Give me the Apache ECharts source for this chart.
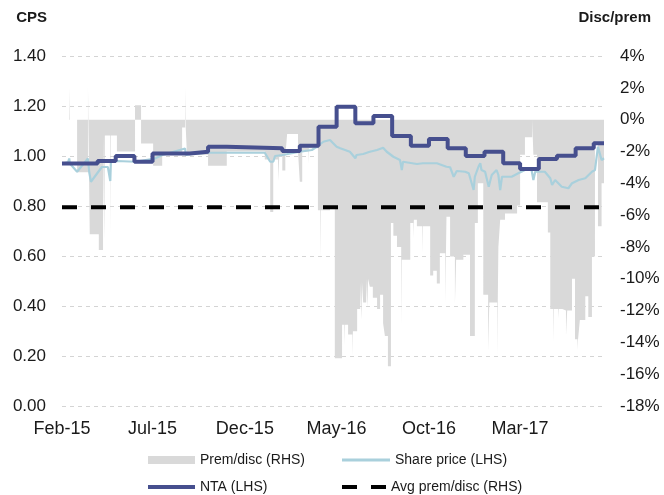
<!DOCTYPE html>
<html>
<head>
<meta charset="utf-8">
<script src="https://cdn.jsdelivr.net/npm/echarts@6/dist/echarts.min.js"></script>
<style>
html,body{margin:0;padding:0;background:#fff;}
#chart{width:664px;height:495px;}
</style>
</head>
<body>
<div id="chart"></div>
<script>
// ---- Data ----
const xTickDates = ['2015-02-01','2015-07-01','2015-12-01','2016-05-01','2016-10-01','2017-03-01'];
const xTickLabels = ['Feb-15','Jul-15','Dec-15','May-16','Oct-16','Mar-17'];
const xStart = '2015-02-01';
const xEnd = '2017-07-18';

// Premium / discount to NTA (%), step values starting on each date
const premDates = ['2015-02-01','2015-02-13','2015-02-14','2015-02-26','2015-03-16','2015-03-19','2015-04-03','2015-04-10','2015-04-12','2015-04-13',
'2015-04-22','2015-04-23','2015-05-03','2015-06-02','2015-06-12','2015-07-02','2015-07-17','2015-08-19','2015-08-24','2015-08-25',
'2015-08-27','2015-10-01','2015-11-01','2016-01-03','2016-01-12','2016-01-17','2016-01-25','2016-01-27','2016-02-01','2016-02-06',
'2016-02-09','2016-02-27','2016-03-01','2016-03-05','2016-03-15','2016-03-16','2016-03-31','2016-04-04','2016-04-05','2016-04-20',
'2016-04-28','2016-05-10','2016-05-14','2016-05-15','2016-05-20','2016-05-27','2016-05-28','2016-06-04','2016-06-09','2016-06-11',
'2016-06-12','2016-06-14','2016-06-19','2016-06-21','2016-06-22','2016-06-25','2016-06-30','2016-07-07','2016-07-12','2016-07-17',
'2016-07-20','2016-07-25','2016-07-30','2016-08-03','2016-08-09','2016-08-16','2016-08-17','2016-08-31','2016-09-05','2016-09-06',
'2016-09-11','2016-09-20','2016-09-21','2016-10-03','2016-10-08','2016-10-14','2016-10-19','2016-10-28','2016-10-30','2016-11-05',
'2016-11-13','2016-11-15','2016-11-27','2016-12-08','2016-12-16','2016-12-21','2016-12-30','2017-01-07','2017-01-09','2017-01-22',
'2017-01-24','2017-01-27','2017-02-04','2017-02-24','2017-03-01','2017-03-09','2017-03-21','2017-03-23','2017-03-29','2017-04-16',
'2017-04-20','2017-04-25','2017-04-26','2017-05-03','2017-05-04','2017-05-10','2017-05-16','2017-05-18','2017-05-26','2017-05-31',
'2017-06-04','2017-06-05','2017-06-08','2017-06-17','2017-06-22','2017-06-28','2017-07-03','2017-07-08','2017-07-14','2017-07-18'];
const premValues = [0,2.0,0,-3.3,2.1,-7.2,-8.2,-1.0,-7.6,-1.0,
-7.4,-1.0,-2.0,0.9,-1.5,-2.9,-2.2,-0.5,2.0,-0.5,
-2.2,-2.9,-2.0,-2.5,-5.8,-2.5,-3.9,-2.3,-3.2,-2.3,
-0.9,-2.0,-3.9,-2.0,-2.8,-1.8,-5.7,-8.9,-5.7,-5.5,
-15.0,-12.9,-14.2,-12.9,-13.5,-14.9,-13.3,-11.9,-10.2,-12.6,
-10.2,-11.5,-10.0,-11.8,-10.0,-10.5,-11.2,-11.9,-11.0,-12.8,
-13.6,-15.5,-6.5,-7.3,-8.0,-13.0,-8.8,-6.5,-7.5,-6.3,
-6.7,-8.4,-6.7,-9.8,-9.5,-10.3,-8.4,-11.6,-6.1,-8.6,
-11.6,-8.8,-8.5,-13.6,-6.5,-4.0,-11.0,-14.6,-11.5,-14.9,
-8.0,-6.3,-5.9,-5.4,-2.2,-1.1,0,-2.2,-5.2,-7.1,
-11.9,-14.0,-11.9,-12.5,-11.9,-12.0,-13.6,-12.0,-10.0,-13.8,
-14.5,-13.8,-12.6,-11.1,-12.4,-8.6,-1.5,-6.7,-4.0,-4.0];

// Share price (cents per share)
const shareDates = ['2015-02-01','2015-02-11','2015-02-13','2015-02-14','2015-02-26','2015-03-16','2015-03-18','2015-03-21','2015-04-08','2015-04-18',
'2015-04-22','2015-04-23','2015-05-03','2015-06-02','2015-07-05','2015-07-17','2015-08-24','2015-08-25','2015-09-01','2015-10-01',
'2016-01-03','2016-01-12','2016-01-17','2016-01-20','2016-02-01','2016-03-01','2016-03-21','2016-03-31','2016-04-09','2016-04-20',
'2016-05-01','2016-05-07','2016-05-23','2016-06-01','2016-06-03','2016-06-14','2016-06-25','2016-07-07','2016-07-17','2016-07-23',
'2016-08-03','2016-08-14','2016-08-17','2016-08-19','2016-09-11','2016-09-21','2016-10-14','2016-10-30','2016-11-05','2016-11-11',
'2016-11-16','2016-11-30','2016-12-06','2016-12-14','2016-12-16','2016-12-22','2016-12-25','2016-12-27','2017-01-02','2017-01-08',
'2017-01-13','2017-01-21','2017-01-24','2017-01-27','2017-01-30','2017-02-15','2017-02-26','2017-03-09','2017-03-20','2017-03-23',
'2017-03-26','2017-04-11','2017-04-20','2017-04-23','2017-04-28','2017-05-09','2017-05-20','2017-05-26','2017-06-06','2017-06-17',
'2017-06-28','2017-07-03','2017-07-08','2017-07-14','2017-07-18'];
const shareValues = [0.97,0.975,0.99,0.97,0.937,0.99,0.937,0.897,0.956,0.956,
0.90,0.977,0.98,0.977,0.99,1.004,1.03,1.004,1.007,1.013,
1.013,0.977,0.977,1.0,1.004,1.017,1.024,1.04,1.057,1.064,
1.037,1.031,1.017,0.991,1.004,1.008,1.017,1.024,1.033,1.017,
0.997,0.984,0.944,0.977,0.968,0.971,0.971,0.957,0.955,0.917,
0.94,0.937,0.931,0.864,0.917,0.957,0.971,0.944,0.937,0.877,
0.924,0.944,0.924,0.864,0.917,0.917,0.931,0.944,0.944,0.904,
0.937,0.937,0.911,0.884,0.904,0.877,0.871,0.891,0.904,0.911,
0.937,0.944,1.037,0.984,0.991];

// NTA per share (monthly)
const ntaDates = ['2015-02-01','2015-04-01','2015-05-01','2015-06-01','2015-07-01','2015-09-01','2015-10-01','2015-11-01','2016-02-01','2016-03-01',
'2016-04-01','2016-05-01','2016-06-01','2016-07-01','2016-08-01','2016-09-01','2016-10-01','2016-11-01','2016-12-01','2017-01-01',
'2017-02-01','2017-03-01','2017-04-01','2017-05-01','2017-06-01','2017-07-01','2017-07-18'];
const ntaValues = [0.97,0.98,1.00,0.977,1.01,1.017,1.037,1.031,1.02,1.041,
1.117,1.197,1.131,1.16,1.08,1.041,1.068,1.031,1.00,1.017,
0.971,0.948,0.988,1.001,1.031,1.051,1.051];

const avgPremDisc = -5.5;

// ---- Build ----
const toTs = s => { const p = s.split('-').map(Number); return Date.UTC(p[0], p[1]-1, p[2]); };
const pairs = (ds, vs) => ds.map((d, i) => [toTs(d), vs[i]]);
const tickTs = xTickDates.map(toTs);

const chart = echarts.init(document.getElementById('chart'), null, {renderer: 'canvas'});
const txt = '#1a1a1a';
const font = 'Liberation Sans, Arial, sans-serif';

const legendText = {fontSize: 14, color: txt, lineHeight: 16, fontFamily: font};
function oneLegend(name, left, centerY, icon, w, h, color) {
  return {
    left: left, top: centerY - 8, padding: 0, itemWidth: w, itemHeight: h,
    textStyle: legendText,
    data: [{name: name, icon: icon, itemStyle: {color: color, borderWidth: 0}}]
  };
}

chart.setOption({
  animation: false,
  textStyle: {fontFamily: font},
  grid: {left: 62, right: 60, top: 56, bottom: 89, containLabel: false},
  xAxis: {
    type: 'value',
    min: toTs(xStart), max: toTs(xEnd),
    axisLine: {show: false}, axisTick: {show: false, customValues: tickTs},
    splitLine: {show: false},
    axisLabel: {
      customValues: tickTs,
      fontSize: 18, color: txt, margin: 14, fontFamily: font,
      formatter: v => { const i = tickTs.indexOf(v); return i >= 0 ? xTickLabels[i] : ''; }
    }
  },
  yAxis: [
    {
      type: 'value', min: 0, max: 1.4, interval: 0.2, position: 'left',
      axisLine: {show: false}, axisTick: {show: false},
      axisLabel: {fontSize: 17, color: txt, margin: 16, fontFamily: font, formatter: v => v.toFixed(2)},
      splitLine: {show: true, lineStyle: {color: '#d4d4d4', type: [4, 4], width: 1}}
    },
    {
      type: 'value', min: -18, max: 4, interval: 2, position: 'right',
      axisLine: {show: false}, axisTick: {show: false},
      axisLabel: {fontSize: 17, color: txt, margin: 16, fontFamily: font, formatter: v => v + '%'},
      splitLine: {show: false}
    }
  ],
  graphic: [
    {type: 'text', right: 664 - 47, top: 10, style: {text: 'CPS', font: 'bold 15px ' + font, fill: txt}},
    {type: 'text', right: 664 - 651, top: 10, style: {text: 'Disc/prem', font: 'bold 15px ' + font, fill: txt}}
  ],
  legend: [
    oneLegend('Prem/disc (RHS)', 148, 460, 'rect', 47, 8, '#d9d9d9'),
    oneLegend('NTA (LHS)', 148, 487, 'rect', 47, 4, '#464f8e'),
    oneLegend('Share price (LHS)', 342, 460, 'rect', 48, 3, '#a9d0dc'),
    oneLegend('Avg prem/disc (RHS)', 342, 487, 'path://M0,0h15v4h-15z M29,0h15v4h-15z', 44, 4, '#000')
  ],
  series: [
    {
      name: 'Prem/disc (RHS)', type: 'line', yAxisIndex: 1, step: 'end',
      symbol: 'none', color: '#d9d9d9',
      lineStyle: {width: 0, color: '#d9d9d9'},
      areaStyle: {color: '#d9d9d9', opacity: 1},
      data: pairs(premDates, premValues), z: 1
    },
    {
      name: 'Avg prem/disc (RHS)', type: 'line', yAxisIndex: 1,
      symbol: 'none', color: '#000',
      lineStyle: {width: 4, color: '#000', type: [15, 14]},
      data: [[toTs(xStart), avgPremDisc], [toTs(xEnd), avgPremDisc]], z: 2
    },
    {
      name: 'Share price (LHS)', type: 'line', yAxisIndex: 0,
      symbol: 'none', color: '#a9d0dc',
      lineStyle: {width: 2.2, color: '#a9d0dc'},
      data: pairs(shareDates, shareValues), z: 3
    },
    {
      name: 'NTA (LHS)', type: 'line', yAxisIndex: 0, step: 'end',
      symbol: 'none', color: '#464f8e',
      lineStyle: {width: 4, color: '#464f8e'},
      data: pairs(ntaDates, ntaValues), z: 4
    }
  ]
});
</script>
</body>
</html>
